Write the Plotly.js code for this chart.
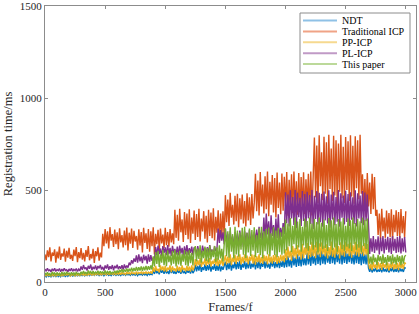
<!DOCTYPE html>
<html>
<head>
<meta charset="utf-8">
<script src="https://cdn.plot.ly/plotly-3.0.1.min.js"></script>
<style>html,body{margin:0;padding:0;background:#fff;}#chart{width:419px;height:314px;}</style>
</head>
<body>
<div id="chart"></div>
<script>
const FRAME_STEP = 10;
const seriesNames = ["NDT", "Traditional ICP", "PP-ICP", "PL-ICP", "This paper"];
const xTicks = [0, 500, 1000, 1500, 2000, 2500, 3000];
const yTicks = [0, 500, 1000, 1500];

const ndt = [
38,28,40,30,36,26,42,31,39,27, 41,30,38,29,42,32,40,28,43,31, 39,33,44,30,41,34,45,32,42,35,
44,33,45,34,42,36,45,35,43,37, 46,36,44,38,45,35,43,37,46,34, 44,38,45,36,42,35,46,38,44,36,
45,37,43,35,46,38,44,36,45,39, 43,36,46,38,44,37,45,35,46,39, 44,37,46,38,45,36,47,39,44,40,
62,44,68,48,58,42,70,50,64,45, 68,47,60,43,70,49,65,46,56,44, 69,50,62,45,70,48,57,44,66,50, 63,46,70,48,60,
95,58,88,62,98,55,80,65,96,60, 92,64,99,56,85,68,97,60,90,62, 98,58,84,66,94,
110,65,102,70,115,62,95,75,112,68, 108,72,118,66,98,78,115,70,105,74, 120,72,100,80,116,68,110,76,118,70,
104,82,120,74,112,78,100,72,118,84, 115,76,108,80,120,75,112,82,118,78,
130,80,142,85,122,78,145,90,132,82, 150,88,138,85,155,92,128,90,160,95, 148,88,165,100,140,92,170,98,155,92,
172,100,150,95,168,105,145,98,175,102, 160,95,170,108,150,100,175,96,162,104, 168,98,155,108,172,100,148,95,165,102,
170,98,158,92,165,100,150,95,160,
75,55,80,52,72,58,78,54,68,56, 76,53,80,57,70,55,78,52,74,58, 80,54,72,56,78,53,76,58,70,55, 78,74];

const traditionalIcp = [
150,118,172,135,188,112,160,142,178,105, 165,128,192,120,155,138,182,110,170,132, 186,125,148,115,176,140,190,108,162,130,
184,122,158,112,174,136,195,118,152,128, 180,104,168,140,188,116,160,134,
262,195,288,210,275,182,298,225,260,190, 285,205,270,178,292,215,255,188,280,200, 296,172,268,208,290,185,278,220,250,176,
286,198,272,160,294,212,265,180,288,165, 275,195,298,150,262,205,284,170,290,210, 258,185,295,200,272,192,288,215,265,205,
392,240,365,225,398,270,340,218,380,255, 372,232,395,212,350,262,388,228,370,245, 398,220,345,275,385,235,360,215,392,250,
378,238,400,226,355,268,390,222,372,248, 385,242,
472,325,448,305,485,350,420,312,468,330, 480,298,455,340,475,318,440,302,482,335, 460,310,478,345,430,
588,385,552,362,598,410,530,372,575,395, 600,358,545,420,582,378,565,350,595,402, 540,368,590,388,572,412,598,360,555,392,
585,375,600,405,548,365,592,382,570,398, 596,370,558,415,588,380,600,362,575,
785,460,742,430,798,520,705,445,790,480, 760,425,800,505,725,440,795,470,770,415, 752,490,800,455,735,430,788,500,765,440,
798,465,740,425,792,510,770,450,800,480,
585,390,560,355,592,410,540,370,588,395,570,360,
392,255,372,232,398,275,350,240,388,262, 375,245,395,228,365,270,390,250,380,238, 396,265,358,242,385];

const ppIcp = [
42,32,45,35,40,30,44,34,46,33, 41,36,45,31,43,35,47,34,44,38, 46,33,42,37,45,32,48,36,43,35,
47,38,44,34,49,37,45,39,48,36, 50,38,46,40,52,39,47,37,51,41, 48,40,53,39,50,42,46,41,52,38,
54,42,50,40,53,43,48,41,55,44, 51,42,54,45,50,43,56,44,52,46, 55,45,53,47,57,44,54,48,56,46,
80,55,88,60,72,52,90,64,84,58, 88,56,78,66,90,54,85,62,74,57, 89,60,82,53,90,65,76,58,87,61, 84,56,90,63,80,
125,85,118,92,130,82,110,96,128,88, 122,94,130,84,115,98,126,90,130,86, 120,95,128,88,124,
145,95,138,102,150,92,132,108,148,98, 142,112,150,95,136,104,150,110,144,96, 138,115,150,100,148,94,140,108,150,102,
135,98,148,112,142,96,150,106,138,100, 146,110,150,98,140,104,148,115,144,108,
178,120,192,132,170,115,196,138,185,125, 200,142,176,122,208,130,188,148,212,126, 195,136,218,142,200,130,220,148,210,135,
215,152,198,140,205,128,190,145,220,138, 185,132,210,150,195,128,216,145,202,138, 220,155,208,140,215,132,200,150,218,145,
205,138,220,152,198,142,212,148,206,
105,70,98,64,110,76,95,68,108,72, 102,66,110,78,96,70,106,62,100,74, 110,68,98,72,104,65,108,75,100,70, 106,98];

const plIcp = [
70,58,74,61,66,55,72,60,75,57, 68,62,73,56,70,59,74,63,67,55, 71,60,75,58,69,62,73,57,70,61,
85,66,92,70,80,62,88,72,95,64, 83,70,90,65,87,74,93,68,82,62, 90,73,95,66,86,71,92,64,88,75, 94,69,85,72,91,67,95,74,89,78,
105,92,118,100,128,110,
145,105,150,112,138,102,148,118,142,100,150,110,146,115,
130,122,
190,145,198,152,182,140,195,158,188,146, 200,150,185,142,196,160,180,148,192,145, 198,155,186,143,194,150,200,147,184,158, 192,146,188,
180,150,195,160,172,148,198,165,185,152, 190,158,200,162,176,150,194,168,182,
290,212,282,225,270,205,288,220,
262,188,278,200,248,185,272,212,265,192, 280,205,255,190,275,215,268,196,282,208, 258,190,274,218,
285,220,300,240,268,225,350,235,372,258, 330,222,362,250,310,228,345,240,368,230, 295,245,320,260,
488,320,475,302,498,345,462,310,500,292, 485,352,458,305,495,332,478,298,490,346, 472,315,500,288,468,342,495,312,485,325,
480,300,492,335,466,318,498,295,475,340, 490,308,462,328,500,300,482,350,470,312, 496,326,478,305,488,338,460,315,499,302,
482,345,470,320,494,308,486,330,476,
245,152,238,165,250,158,232,172,248,150, 242,168,250,155,236,175,246,160,240,152, 249,170,235,158,246,162,250,155,238,166, 244,160];

const thisPaper = [
50,38,53,41,46,35,55,43,49,37, 52,40,47,36,54,42,50,39,55,44, 48,37,53,41,51,36,55,43,47,40,
56,43,60,46,52,42,62,48,57,44, 59,45,54,47,61,43,58,49,55,44, 62,46,57,48,60,45,53,49,61,47,
62,50,66,54,70,52,68,56,74,55, 72,58,78,57,76,60,82,59,80,62, 85,60,83,64,88,63,86,66,90,68,
140,85,162,98,170,82,150,105,175,92, 158,86,172,108,145,90,168,100,175,84, 160,95,170,88,152,110,174,92,165,86, 172,102,158,90,175,
195,112,182,125,200,105,170,130,192,115, 185,108,198,122,175,135,196,110,188,118, 200,128,180,112,194,
292,140,275,132,298,165,260,128,300,150, 280,138,270,175,295,148,300,130,268,160, 290,142,282,170,298,135,255,158,292,145,
300,128,275,168,288,150,296,140,265,172, 298,145,280,135,294,162,270,148,300,155,
340,172,318,195,348,162,305,205,350,178, 328,188,342,165,300,198,345,182,332,170, 350,202,318,176,344,188,326,160,350,192,
322,178,340,185,310,168,348,196,335,174, 350,188,315,165,342,200,328,178,348,170, 305,192,345,182,336,168,350,205,320,175,
342,186,330,162,350,195,338,180,345,
145,100,138,95,150,108,132,92,148,112, 140,98,150,104,135,90,146,110,142,96, 150,102,136,94,148,108,140,92,145,100, 138,146];

const seriesValues = [ndt, traditionalIcp, ppIcp, plIcp, thisPaper];
const colors = ["#0072BD", "#D95319", "#EDB120", "#7E2F8E", "#77AC30"];
const legendColors = ["#8fc1e6", "#f0a386", "#f6d98f", "#c09ac6", "#bcd99a"];

const traces = seriesValues.map((vals, k) => ({
  type: "scatter", mode: "lines", name: seriesNames[k],
  x: vals.map((_, i) => i * FRAME_STEP), y: vals,
  line: {color: colors[k], width: 1.4},
  showlegend: false, hoverinfo: "skip"
}));

const serif = "'Liberation Serif', 'Times New Roman', serif";
const axisCommon = {
  showline: true, linecolor: "#8c8c8c", linewidth: 1, mirror: "ticks",
  ticks: "inside", ticklen: 3, tickcolor: "#8c8c8c", tickwidth: 1,
  showgrid: false, zeroline: false,
  tickfont: {family: serif, size: 11, color: "#262626"},
  ticklabeloverflow: "allow",
  automargin: false
};

// Hand-built legend box (MATLAB-style compact legend)
const W = 419, H = 314, ML = 45, MR = 3, MT = 6, MB = 32;
const pw = W - ML - MR, ph = H - MT - MB;
const px = v => (v - ML) / pw;
const py = v => (H - MB - v) / ph;
const shapes = [{
  type: "rect", xref: "paper", yref: "paper",
  x0: px(300), x1: px(410), y0: py(73), y1: py(13),
  line: {color: "#8c8c8c", width: 1}, fillcolor: "#fff", layer: "above"
}];
const annotations = [];
seriesNames.forEach((name, k) => {
  const yy = 20.5 + k * 10.9;
  shapes.push({
    type: "line", xref: "paper", yref: "paper",
    x0: px(303), x1: px(337), y0: py(yy), y1: py(yy),
    line: {color: legendColors[k], width: 2}, layer: "above"
  });
  annotations.push({
    xref: "paper", yref: "paper", x: px(339.5), y: py(yy),
    xanchor: "left", yanchor: "middle", showarrow: false,
    text: name, font: {family: serif, size: 10, color: "#000"}
  });
});

const layout = {
  width: W, height: H,
  margin: {l: ML, r: MR, t: MT, b: MB, pad: 0},
  paper_bgcolor: "#fff", plot_bgcolor: "#fff",
  showlegend: false,
  xaxis: Object.assign({}, axisCommon, {
    range: [0, 3085], tickvals: xTicks, ticktext: xTicks.map(String),
    title: {text: "Frames/f", font: {family: serif, size: 12.5, color: "#262626"}, standoff: 12}
  }),
  yaxis: Object.assign({}, axisCommon, {
    range: [0, 1500], tickvals: yTicks, ticktext: yTicks.map(String),
    title: {text: "Registration time/ms", font: {family: serif, size: 12.5, color: "#262626"}, standoff: 4}
  }),
  shapes: shapes,
  annotations: annotations
};

Plotly.newPlot("chart", traces, layout, {staticPlot: true, displayModeBar: false});
</script>
</body>
</html>
